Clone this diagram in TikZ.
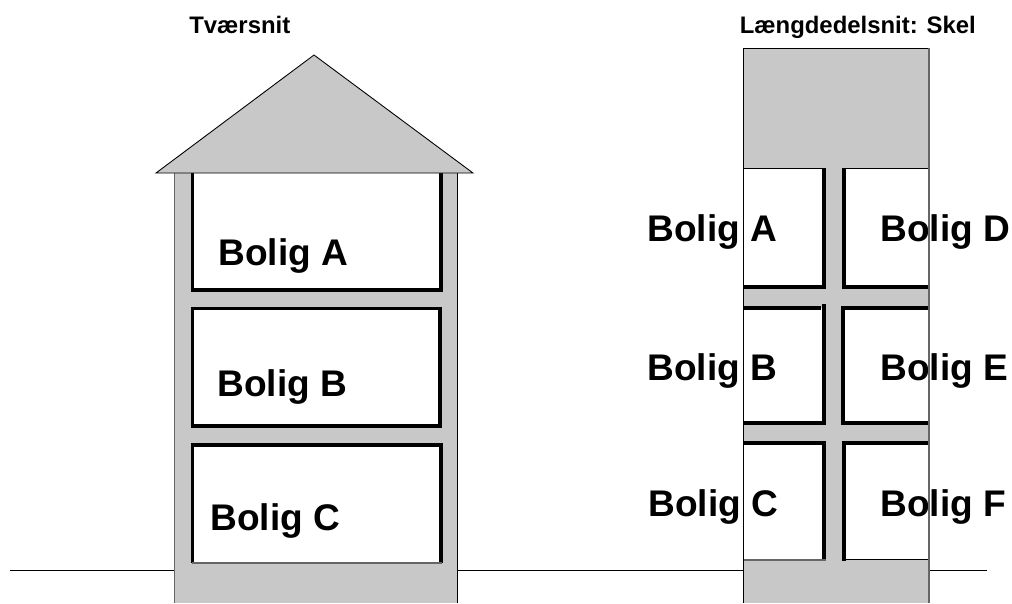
\documentclass[tikz,border=0pt]{standalone}
\usepackage{fontspec}
\setmainfont{Liberation Sans}
\definecolor{wallgray}{RGB}{200,200,200}
\tikzset{
  wall/.style={fill=wallgray,draw=black,line width=.5pt},
  thin edge/.style={draw=black,line width=.5pt},
  pale edge/.style={draw=black!60,line width=.6pt},
  thick edge/.style={draw=black,line width=2.2pt},
  room label/.style={anchor=base west,inner sep=0pt,font=\bfseries\fontsize{21.1}{24}\selectfont},
  title label/.style={anchor=base west,inner sep=0pt,font=\bfseries\fontsize{13.6}{15}\selectfont}
}
\begin{document}
\begin{tikzpicture}[x=.02cm,y=-.02cm]
  \useasboundingbox (0,0) rectangle (1012,603);
  % ground
  \draw[thin edge] (10,570) -- (987,570);
  % cross section
  \fill[wallgray] (175,173) rectangle (457,603);
  \fill[white] (193,173) rectangle (441,290);
  \fill[white] (193,309) rectangle (440,426);
  \fill[white] (193,445) rectangle (441,563);
  \draw[thick edge] (192.5,173) |- (441,290) -- (441,173);
  \draw[thick edge] (192.5,426) -- (192.5,308.5) -- (440,308.5) -- (440,426) -- cycle;
  \draw[thick edge] (192.5,563) -- (192.5,445) -- (441,445) -- (441,563);
  \draw[pale edge] (192,563) -- (442,563);
  \draw[pale edge] (174.5,173) -- (174.5,603);
  \draw[thin edge] (457,173) -- (457,603);
  \draw[wall,line join=miter] (156,173) -- (314,55) -- (473,173) -- cycle;
  % length section
  \fill[wallgray] (743,48) rectangle (929,603);
  \foreach \ya/\yb in {168/287,308/423,443/560}{
    \fill[white] (743,\ya) rectangle (824,\yb);
    \fill[white] (844,\ya) rectangle (929,\yb);
  }
  \draw[thin edge] (743,168) -- (824,168) (844,168) -- (929,168);
  \draw[thick edge] (743,287) -- (824,287) -- (824,168);
  \draw[thick edge] (929,287) -- (844,287) -- (844,168);
  \draw[thick edge] (743,308) -- (821,308) (824,304) -- (824,423) -- (743,423);
  \draw[thick edge] (929,308) -- (843,308) -- (843,423) -- (929,423);
  \draw[thick edge] (743,443) -- (824,443) -- (824,560);
  \draw[thick edge] (929,443) -- (844,443) -- (844,561);
  \draw[pale edge] (743,560) -- (826,560);
  \draw[thin edge] (844,559) -- (929,559);
  % labels
  \node[title label] (title1) at (189,33) {Tværsnit};
  \node[title label] (title2) at (739.5,33) {Længdedelsnit: Skel};
  \foreach \id/\x/\y/\txt in {a/218/265/A,b/217/396/B,c/210/530/C,
    a2/647/241/A,b2/647/380/B,c2/648/516/C,
    d/880/241/D,e/880/380/E,f/880/516/F}
    \node[room label] (bolig\id) at (\x,\y) {Bolig \txt};
  \draw[thin edge] (743,603) -- (743,48) -- (929,48);
  \draw[pale edge] (929,48) -- (929,603);
\end{tikzpicture}
\end{document}
